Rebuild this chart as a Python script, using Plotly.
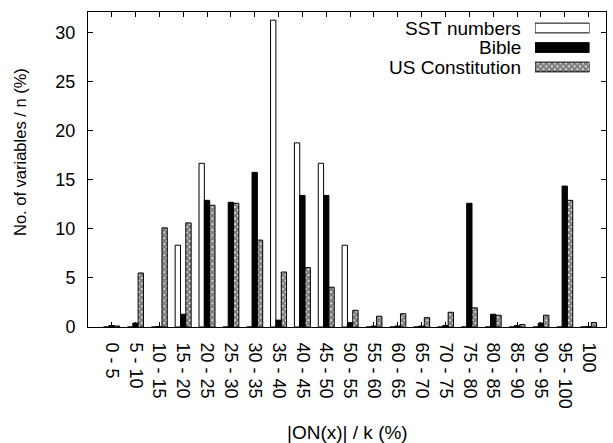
import plotly.graph_objects as go

categories = ["0 - 5", "5 - 10", "10 - 15", "15 - 20", "20 - 25", "25 - 30", "30 - 35",
              "35 - 40", "40 - 45", "45 - 50", "50 - 55", "55 - 60", "60 - 65", "65 - 70",
              "70 - 75", "75 - 80", "80 - 85", "85 - 90", "90 - 95", "95 - 100", "100"]
sst_numbers = [0, 0, 0, 8.33, 16.67, 0, 0, 31.25, 18.75, 16.67, 8.33,
               0, 0, 0, 0, 0, 0, 0, 0, 0, 0]
bible = [0.15, 0.4, 0.05, 1.3, 12.9, 12.7, 15.75, 0.7, 13.4, 13.4, 0.45,
         0.1, 0.1, 0.1, 0.15, 12.6, 1.3, 0.15, 0.4, 14.35, 0.05]
us_constitution = [0.1, 5.5, 10.1, 10.6, 12.4, 12.6, 8.85, 5.6, 6.05, 4.05, 1.7,
                   1.1, 1.35, 0.95, 1.5, 1.95, 1.2, 0.25, 1.2, 12.9, 0.45]
y_ticks = [0, 5, 10, 15, 20, 25, 30]
series_names = ["SST numbers", "Bible", "US Constitution"]

FONT = "Liberation Sans, Arial, sans-serif"
markers = [
    dict(color="white", line=dict(color="black", width=1)),
    dict(color="black", line=dict(color="black", width=1)),
    dict(color="white", line=dict(color="black", width=1),
         pattern=dict(shape="x", fgcolor="black", bgcolor="white", size=4, solidity=0.85)),
]
values = [sst_numbers, bible, us_constitution]

fig = go.Figure()
for name, vals, mk in zip(series_names, values, markers):
    fig.add_trace(go.Bar(x=categories, y=vals, name=name, marker=mk, showlegend=False))

# custom gnuplot-style legend (text right, sample box on the right)
for name, mk in zip(series_names, markers):
    fig.add_trace(go.Bar(x=[1], y=[name], orientation="h", marker=mk, width=0.5,
                         xaxis="x2", yaxis="y2", showlegend=False, hoverinfo="skip"))

W, H = 613, 443
L, R, T, B = 88, 7, 12, 116
pw, ph = W - L - R, H - T - B
def px_x(x):
    return (x - L) / pw
def px_y(y):
    return (H - B - y) / ph

row_y = [28, 47.5, 67]
for name, yy in zip(series_names, row_y):
    fig.add_annotation(text=name, x=px_x(523), y=px_y(yy), xref="paper", yref="paper",
                       xanchor="right", yanchor="middle", showarrow=False,
                       font=dict(family=FONT, size=19, color="black"))

fig.add_annotation(text="No. of variables / n (%)", x=px_x(20), y=px_y(152),
                   xref="paper", yref="paper", textangle=-90, showarrow=False,
                   xanchor="center", yanchor="middle",
                   font=dict(family=FONT, size=16.5, color="black"))
fig.add_annotation(text="|ON(x)| / k (%)", x=px_x(347), y=px_y(432),
                   xref="paper", yref="paper", showarrow=False,
                   xanchor="center", yanchor="middle",
                   font=dict(family=FONT, size=19, color="black"))

fig.update_layout(
    width=W, height=H,
    margin=dict(l=L, r=R, t=T, b=B, pad=0, autoexpand=False),
    paper_bgcolor="white", plot_bgcolor="white",
    barmode="group", bargap=0.33, bargroupgap=0,
    font=dict(family=FONT, size=18, color="black"),
    xaxis=dict(range=[-0.99, 20.73], showline=True, linecolor="black", linewidth=1,
               mirror="ticks", ticks="inside", ticklen=5, tickcolor="black",
               tickangle=90, showgrid=False, zeroline=False, automargin=False,
               tickfont=dict(size=18), ticklabelstandoff=11),
    yaxis=dict(range=[0, 32.08], tickvals=y_ticks, showline=True, linecolor="black",
               linewidth=1, mirror="ticks", ticks="inside", ticklen=5, tickcolor="black",
               showgrid=False, zeroline=False, automargin=False, tickfont=dict(size=18),
               ticklabelstandoff=8),
    xaxis2=dict(domain=[px_x(535), px_x(589.5)], range=[0, 1], anchor="y2",
                visible=False, fixedrange=True),
    yaxis2=dict(domain=[px_y(76.75), px_y(18.25)], range=[-0.5, 2.5], anchor="x2",
                visible=False, type="category",
                categoryorder="array", categoryarray=series_names[::-1], fixedrange=True),
)

fig.write_html("out.html", config={"displayModeBar": False},
               post_script="document.body.style.margin='0';document.body.style.overflow='hidden';")
